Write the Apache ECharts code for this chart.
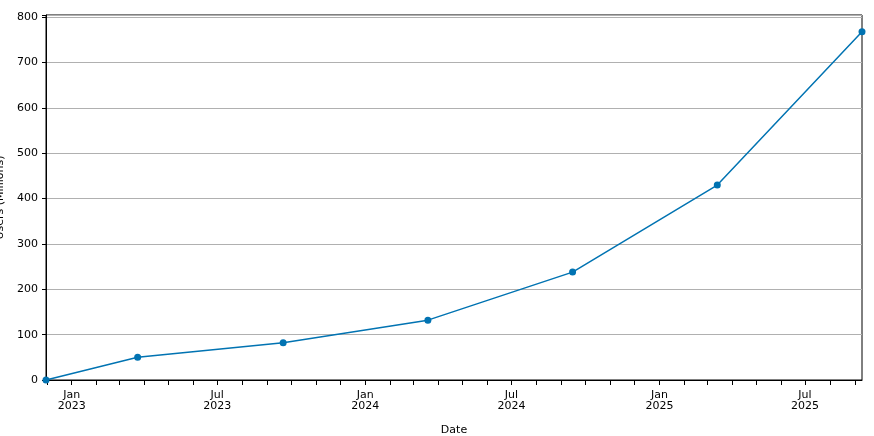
<!DOCTYPE html><html><head><meta charset="utf-8"><script src="https://cdn.jsdelivr.net/npm/echarts@6/dist/echarts.min.js"></script></head><body style="margin:0"><div id="c" style="width:874px;height:436px"></div><script>
const dates=['2022-11-30','2023-03-24','2023-09-21','2024-03-19','2024-09-15','2025-03-14','2025-09-10'];
const users=[0,50,82,132,238,430,768];
const ch=echarts.init(document.getElementById('c'));
const D=86400000;
const mn=+new Date(dates[0]), mx=+new Date(dates[dates.length-1]);
const F='DejaVu Sans';
ch.setOption({
 textStyle:{fontFamily:F},
 grid:{left:46,right:12,top:15,bottom:56,containLabel:false,outerBoundsMode:'none',show:true,borderColor:'#000',borderWidth:1},
 xAxis:{type:'time',min:mn,max:mx,minInterval:28*D,maxInterval:31*D,splitLine:{show:false},
   axisLine:{lineStyle:{color:'#000'}},axisTick:{length:5,lineStyle:{color:'#000'}},
   name:'Date',nameLocation:'middle',nameGap:45,nameTextStyle:{color:'#000',fontSize:11,fontFamily:F},
   axisLabel:{color:'#000',fontSize:11,fontFamily:F,margin:10,hideOverlap:false,formatter:function(v){const d=new Date(v);const m=d.getMonth();
     if(d.getDate()!==1)return '';if(m===0)return 'Jan\n'+d.getFullYear();if(m===6)return 'Jul\n'+d.getFullYear();return '';}}},
 yAxis:{type:'value',min:0,max:805,interval:100,name:'Users (Millions)',nameLocation:'middle',nameGap:34,
  nameTextStyle:{color:'#000',fontSize:11,fontFamily:F},axisLine:{show:true,lineStyle:{color:'#000'}},
  axisTick:{show:true,length:4,lineStyle:{color:'#000'}},axisLabel:{color:'#000',fontSize:11,fontFamily:F,showMaxLabel:true,formatter:v=>v%100===0?v:''},
  splitLine:{lineStyle:{color:'#b0b0b0'}}},
 series:[{type:'line',data:dates.map((d,i)=>[d,users[i]]),symbol:'circle',symbolSize:7,
  itemStyle:{color:'#0173b2'},lineStyle:{color:'#0173b2',width:1.5},clip:false}]
});
</script></body></html>
